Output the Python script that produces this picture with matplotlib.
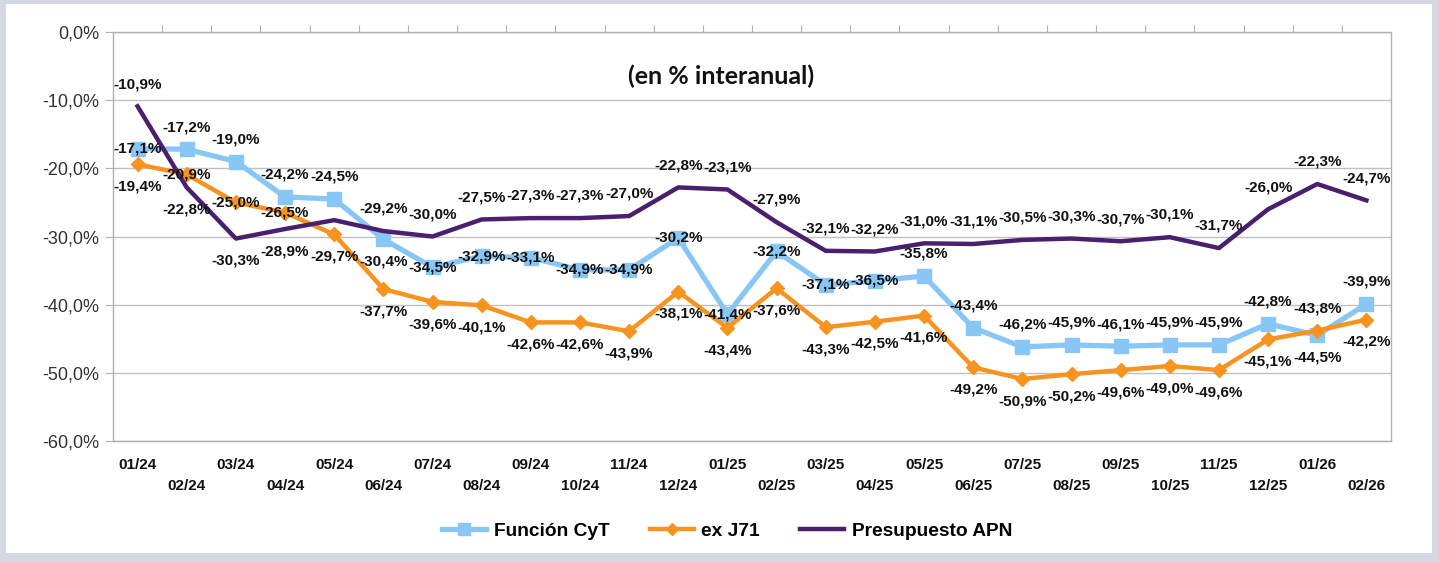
import matplotlib
matplotlib.use("Agg")
import matplotlib.pyplot as plt
from matplotlib.patches import Rectangle
from matplotlib.transforms import blended_transform_factory

# ── Datos ─────────────────────────────────────────────────────────────────────
meses = ["01/24", "02/24", "03/24", "04/24", "05/24", "06/24", "07/24", "08/24",
         "09/24", "10/24", "11/24", "12/24", "01/25", "02/25", "03/25", "04/25",
         "05/25", "06/25", "07/25", "08/25", "09/25", "10/25", "11/25", "12/25",
         "01/26", "02/26"]

funcion_cyt = [-17.1, -17.2, -19.0, -24.2, -24.5, -30.4, -34.5, -32.9, -33.1,
               -34.9, -34.9, -30.2, -41.4, -32.2, -37.1, -36.5, -35.8, -43.4,
               -46.2, -45.9, -46.1, -45.9, -45.9, -42.8, -44.5, -39.9]

ex_j71 = [-19.4, -20.9, -25.0, -26.5, -29.7, -37.7, -39.6, -40.1, -42.6, -42.6,
          -43.9, -38.1, -43.4, -37.6, -43.3, -42.5, -41.6, -49.2, -50.9, -50.2,
          -49.6, -49.0, -49.6, -45.1, -43.8, -42.2]

presupuesto_apn = [-10.9, -22.8, -30.3, -28.9, -27.6, -29.2, -30.0, -27.5, -27.3,
                   -27.3, -27.0, -22.8, -23.1, -27.9, -32.1, -32.2, -31.0, -31.1,
                   -30.5, -30.3, -30.7, -30.1, -31.7, -26.0, -22.3, -24.7]

# posición de cada etiqueta: a = arriba, c = centro, b = abajo, - = sin etiqueta
pos_cyt = "caaaabccccccccccaaaaaaaaba"
pos_j71 = "bcccbbbbbbbbbbbbbbbbbbbbab"
pos_apn = "abbb-aaaaaaaaaaaaaaaaaaaaa"

yticks = [0, -10, -20, -30, -40, -50, -60]

# ── Figura ────────────────────────────────────────────────────────────────────
W, H = 1439, 562
fig = plt.figure(figsize=(W / 100, H / 100), dpi=100, facecolor="#D3D8E3")
fig.patches.append(Rectangle((6 / W, 1 - 553 / H), (1432 - 6) / W, (553 - 4) / H,
                             transform=fig.transFigure, facecolor="white",
                             edgecolor="none", zorder=-1))

left, right, top, bottom = 113, 1391, 32, 441
ax = fig.add_axes([left / W, 1 - bottom / H, (right - left) / W, (bottom - top) / H])
ax.set_zorder(2)
ax.set_facecolor("white")

x = list(range(len(meses)))
c_cyt, c_j71, c_apn = "#88C6F6", "#F7931E", "#4A1F6E"

ax.plot(x, funcion_cyt, color=c_cyt, lw=3.8, marker="s", ms=10,
        label="Función CyT", zorder=3)
ax.plot(x, ex_j71, color=c_j71, lw=3.2, marker="D", ms=7.5,
        label="ex J71", zorder=4)
ax.plot(x, presupuesto_apn, color=c_apn, lw=3.2, label="Presupuesto APN", zorder=5)

off = {"a": 16, "c": 0, "b": -16}
for serie, pos in ((funcion_cyt, pos_cyt), (ex_j71, pos_j71), (presupuesto_apn, pos_apn)):
    for i, (v, p) in enumerate(zip(serie, pos)):
        if p == "-":
            continue
        ax.annotate(f"{v:.1f}%".replace(".", ","), (i, v), xytext=(0, off[p]),
                    textcoords="offset points", ha="center", va="center",
                    fontsize=11, fontweight="bold", family="Liberation Sans",
                    color="#111111", zorder=6)

ax.set_xlim(-0.5, len(meses) - 0.5)
ax.set_ylim(-60, 0)
ax.set_yticks(yticks)
ax.set_yticklabels([f"{v:.1f}%".replace(".", ",") for v in yticks],
                   family="Liberation Sans", fontsize=13, color="#333333")
ax.tick_params(axis="y", length=6, color="#B0B0B0", pad=4)
ax.grid(axis="y", color="#C0C0C0", lw=1)
ax.set_axisbelow(True)

# marcas de categoría sobre la línea de 0%
ax.set_xticks([i - 0.5 for i in range(1, len(meses))])
ax.set_xticklabels([])
ax.tick_params(axis="x", bottom=False, top=True, direction="out",
               length=5, color="#B0B0B0")

for s in ax.spines.values():
    s.set_color("#B0B0B0")
    s.set_linewidth(1)

trans = blended_transform_factory(ax.transData, ax.transAxes)
for i, m in enumerate(meses):
    dy = -17.3 if i % 2 == 0 else -32.4
    ax.annotate(m, (i, 0), xycoords=trans, xytext=(0, dy), textcoords="offset points",
                ha="center", va="center", fontsize=11, fontweight="bold",
                family="Liberation Sans", color="#111111", annotation_clip=False)

fig.text(721 / W, 1 - 76 / H, "(en % interanual)", ha="center", va="center",
         fontsize=18, fontweight="bold", family="Lato", color="#111111")

fig.legend(loc="center", bbox_to_anchor=(727 / W, 1 - 531 / H), ncol=3,
           frameon=False, handlelength=2.3, columnspacing=2.1, handletextpad=0.4,
           markerscale=0.8,
           prop={"family": "Liberation Sans", "weight": "bold", "size": 13.8})

fig.savefig("out.png", dpi=100, facecolor=fig.get_facecolor())
